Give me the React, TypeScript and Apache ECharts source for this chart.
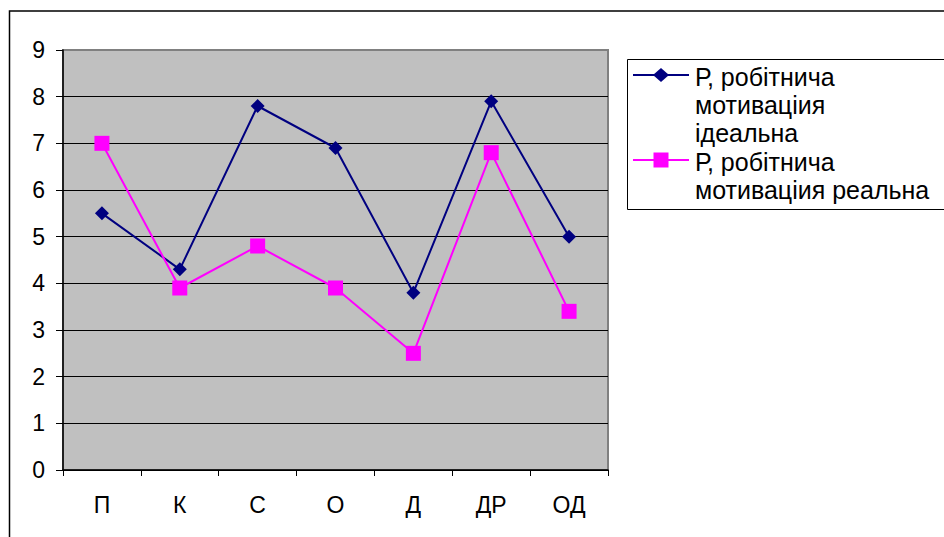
import React, { useEffect, useRef } from "react";
import * as echarts from "echarts";

const categories = ["П", "К", "С", "О", "Д", "ДР", "ОД"];
const idealValues = [5.5, 4.3, 7.8, 6.9, 3.8, 7.9, 5.0];
const realValues = [7.0, 3.9, 4.8, 3.9, 2.5, 6.8, 3.4];
const seriesNames = ["Р, робітнича мотиваціия ідеальна", "Р, робітнича мотиваціия реальна"];
const legendLines1 = ["Р, робітнича", "мотиваціия", "ідеальна"];
const legendLines2 = ["Р, робітнича", "мотиваціия реальна"];
const yTicks = { min: 0, max: 9, interval: 1 };

const FONT = "Liberation Sans, Arial, sans-serif";
const NAVY = "#000080";
const MAGENTA = "#FF00FF";

export default function App() {
  const ref = useRef<HTMLDivElement>(null);
  useEffect(() => {
    if (!ref.current) return;
    const chart = echarts.init(ref.current, undefined, { renderer: "svg" });
    const fs = 23;
    const lfs = 25;
    const lh = 28;
    const option: any = {
      animation: false,
      backgroundColor: "#ffffff",
      grid: {
        left: 63,
        right: 336,
        top: 50,
        bottom: 67,
        show: true,
        backgroundColor: "#C0C0C0",
        borderColor: "#808080",
        borderWidth: 2,
      },
      xAxis: {
        type: "category",
        data: categories,
        boundaryGap: true,
        axisLine: { lineStyle: { color: "#000", width: 1.5 } },
        axisTick: { show: true, length: 6, inside: false, alignWithLabel: false, lineStyle: { color: "#000" } },
        axisLabel: { color: "#000", fontFamily: FONT, fontSize: fs, margin: 23 },
        splitLine: { show: false },
      },
      yAxis: {
        type: "value",
        min: yTicks.min,
        max: yTicks.max,
        interval: yTicks.interval,
        axisLine: { show: true, lineStyle: { color: "#000", width: 1.5 } },
        axisTick: { show: true, length: 7, lineStyle: { color: "#000" } },
        axisLabel: { color: "#000", fontFamily: FONT, fontSize: fs, margin: 18 },
        splitLine: { show: true, showMaxLine: false, lineStyle: { color: "#000", width: 1 } },
      },
      series: [
        {
          name: seriesNames[0],
          type: "line",
          data: idealValues,
          symbol: "diamond",
          symbolSize: 14,
          lineStyle: { color: NAVY, width: 2 },
          itemStyle: { color: NAVY },
        },
        {
          name: seriesNames[1],
          type: "line",
          data: realValues,
          symbol: "rect",
          symbolSize: 15,
          lineStyle: { color: MAGENTA, width: 2 },
          itemStyle: { color: MAGENTA },
        },
      ],
      graphic: [
        {
          type: "rect",
          shape: { x: 9.5, y: 11, width: 2000, height: 2000 },
          style: { fill: "none", stroke: "#000", lineWidth: 1.5 },
          silent: true,
        },
        {
          type: "rect",
          shape: { x: 627.5, y: 59.5, width: 400, height: 150 },
          style: { fill: "#fff", stroke: "#000", lineWidth: 1 },
        },
        {
          type: "line",
          shape: { x1: 633, y1: 75, x2: 689, y2: 75 },
          style: { stroke: NAVY, lineWidth: 2 },
        },
        {
          type: "polygon",
          shape: { points: [[661, 68], [669, 75], [661, 82], [653, 75]] },
          style: { fill: NAVY },
        },
        {
          type: "line",
          shape: { x1: 633, y1: 160, x2: 689, y2: 160 },
          style: { stroke: MAGENTA, lineWidth: 2 },
        },
        {
          type: "rect",
          shape: { x: 653.5, y: 152.5, width: 15, height: 15 },
          style: { fill: MAGENTA },
        },
        ...legendLines1.map((t, i) => ({
          type: "text",
          x: 695,
          y: 77 + i * lh,
          style: { text: t, fill: "#000", font: `${lfs}px ${FONT}`, verticalAlign: "middle" },
        })),
        ...legendLines2.map((t, i) => ({
          type: "text",
          x: 695,
          y: 162 + i * lh,
          style: { text: t, fill: "#000", font: `${lfs}px ${FONT}`, verticalAlign: "middle" },
        })),
      ],
    };
    chart.setOption(option);
    return () => chart.dispose();
  }, []);
  return (
    <div
      ref={ref}
      style={{ position: "fixed", left: 0, top: 0, width: 944, height: 537 }}
    />
  );
}
